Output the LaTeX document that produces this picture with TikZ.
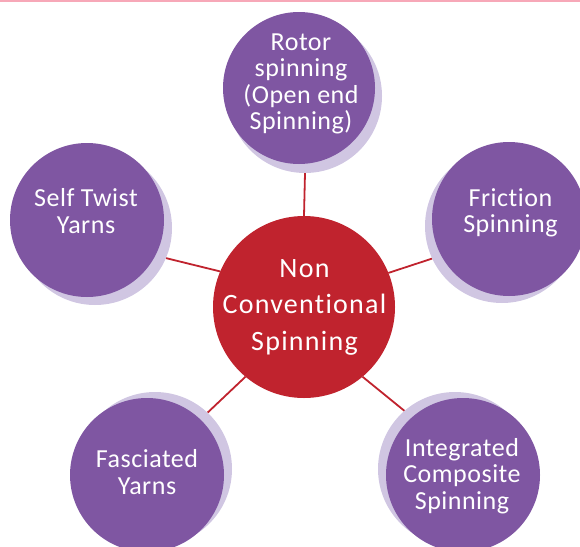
\documentclass[tikz,border=0pt]{standalone}
\usepackage{fontspec}
\setmainfont{Carlito}[Ligatures=NoCommon,LetterSpace=2]
\newfontfamily\centerfont{Carlito}[LetterSpace=4.5,Ligatures=NoCommon]
\usetikzlibrary{backgrounds}
\definecolor{purp}{HTML}{7F56A2}
\definecolor{lav}{HTML}{D0C6E2}
\definecolor{redc}{HTML}{C0232E}
\definecolor{pinkline}{HTML}{F7A8B8}
\begin{document}
\begin{tikzpicture}[x=1pt,y=-1pt,
  disc/.style={circle,inner sep=0pt,outer sep=0pt,minimum size=#1},
  outer/.style={disc=154pt,fill=purp},
  shad/.style={disc=154pt,fill=lav},
  lbl/.style={text=white,align=center,inner sep=0pt,font=\fontsize{26}{26.5}\selectfont},
  clbl/.style={text=white,align=center,inner sep=0pt,font=\centerfont\fontsize{28}{36.5}\selectfont},
  conn/.style={draw=redc,line width=1.8pt}]
\clip (0,0) rectangle (580,546);
\fill[pinkline] (0,0) rectangle (580,2.2);
% shadows
\node[shad] (rotorS) at (305,96) {};
\node[shad] (selfS) at (95,228) {};
\node[shad] (fricS) at (502,226) {};
\node[shad] (fascS) at (155,469) {};
\node[shad] (intS) at (455,469) {};
% circles
\node[outer,disc=152pt] (rotor) at (299,88) {};
\node[outer] (self) at (87,220) {};
\node[outer] (fric) at (509,219) {};
\node[outer] (fasc) at (147,475) {};
\node[outer] (int) at (463,475) {};
\node[disc=182pt,fill=redc] (c) at (304,307) {};
% labels
\node[lbl] (rotorT) at (301,84) {Rotor\\spinning\\(Open end\\Spinning)};
\node[lbl] (selfT) at (86,211) {Self Twist\\Yarns};
\node[lbl] (fricT) at (510.5,213) {Friction\\Spinning};
\node[lbl] (fascT) at (147,472) {Fasciated\\Yarns};
\node[lbl] (intT) at (462,476) {Integrated\\Composite\\Spinning};
\node[clbl] (cT) at (304.5,307) {Non\\Conventional\\Spinning};
% connectors
\begin{pgfonlayer}{background}
\draw[conn] (c.90) -- (rotorS.270);
\draw[conn] (c.157.5) -- (selfS.337);
\draw[conn] (c.22.5) -- (fricS.205);
\draw[conn] (c.230) -- (fascS.47);
\draw[conn] (c.310) -- (intS.131);
\end{pgfonlayer}
\end{tikzpicture}
\end{document}
